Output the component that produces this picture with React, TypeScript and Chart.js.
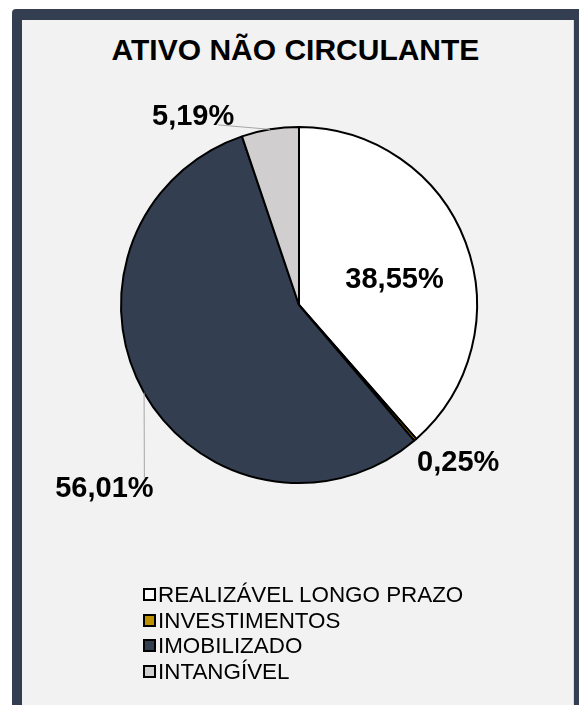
import React, { useEffect, useRef } from "react";
import { Chart, registerables } from "chart.js";

Chart.register(...registerables);

const TITLE = "ATIVO NÃO CIRCULANTE";
const categories = ["REALIZÁVEL LONGO PRAZO", "INVESTIMENTOS", "IMOBILIZADO", "INTANGÍVEL"];
const values = [38.55, 0.25, 56.01, 5.19];
const valueLabels = ["38,55%", "0,25%", "56,01%", "5,19%"];
const colors = ["#FFFFFF", "#BF9000", "#333F50", "#D0CECE"];

// label placement (style): polar position from pie centre as fraction of radius and degrees clockwise from 12 o'clock;
// leader = offset of the leader-line end relative to the label centre
const labelPlacement: { r: number; a: number; leader: number[] | null }[] = [
  { r: 0.556, a: 74.8, leader: null },
  { r: 1.256, a: 134.6, leader: null },
  { r: 1.5, a: 226.8, leader: [40, -10] },
  { r: 1.215, a: 330.7, leader: [25, 8.5] },
];

const FONT = "'Liberation Sans', Arial, Helvetica, sans-serif";

const labelPlugin = {
  id: "pieLabels",
  afterDatasetsDraw(chart: any) {
    const ctx = chart.ctx;
    const meta = chart.getDatasetMeta(0);
    ctx.save();
    meta.data.forEach((arc: any, i: number) => {
      const { x, y, startAngle, endAngle, outerRadius } = arc.getProps(
        ["x", "y", "startAngle", "endAngle", "outerRadius"],
        true
      );
      const mid = (startAngle + endAngle) / 2;
      const p = labelPlacement[i];
      const a = ((p.a - 90) * Math.PI) / 180;
      const lx = x + Math.cos(a) * outerRadius * p.r;
      const ly = y + Math.sin(a) * outerRadius * p.r;
      if (p.leader) {
        const ex = x + Math.cos(mid) * outerRadius;
        const ey = y + Math.sin(mid) * outerRadius;
        ctx.beginPath();
        ctx.moveTo(ex, ey);
        ctx.lineTo(lx + p.leader[0], ly + p.leader[1]);
        ctx.strokeStyle = "#A6A6A6";
        ctx.lineWidth = 1;
        ctx.stroke();
      }
      ctx.font = `bold 29px ${FONT}`;
      ctx.fillStyle = "#000000";
      ctx.textAlign = "center";
      ctx.textBaseline = "middle";
      ctx.fillText(valueLabels[i], lx, ly + 1);
    });
    ctx.restore();
  },
};

export default function App() {
  const canvasRef = useRef<HTMLCanvasElement | null>(null);

  useEffect(() => {
    if (!canvasRef.current) return;
    const chart = new Chart(canvasRef.current, {
      type: "pie",
      data: {
        labels: categories,
        datasets: [
          {
            data: values,
            backgroundColor: colors,
            borderColor: "#000000",
            borderWidth: 2,
          },
        ],
      },
      options: {
        responsive: false,
        animation: false,
        layout: { padding: { left: 120, right: 101, top: 126, bottom: 221 } },
        plugins: {
          legend: { display: false },
          tooltip: { enabled: false },
          title: { display: false },
        },
      },
      plugins: [labelPlugin],
    });
    return () => chart.destroy();
  }, []);

  return (
    <div>
      <div
        style={{
          position: "fixed",
          left: 12,
          top: 9,
          width: 620,
          height: 740,
          background: "#333F50",
          borderTopLeftRadius: 4,
        }}
      />
      <div
        style={{
          position: "fixed",
          left: 22,
          top: 20,
          width: 551,
          height: 720,
          background: "#F2F2F2",
          borderRight: "1px solid #D9D9D9",
        }}
      />
      <div
        style={{
          position: "fixed",
          left: 20,
          top: 35,
          width: 551,
          textAlign: "center",
          fontFamily: FONT,
          fontWeight: "bold",
          fontSize: 30,
          lineHeight: "29px",
          color: "#000",
          whiteSpace: "nowrap",
        }}
      >
        {TITLE}
      </div>
      <canvas
        ref={canvasRef}
        width={579}
        height={705}
        style={{ position: "fixed", left: 0, top: 0, width: 579, height: 705 }}
      />
      <div
        style={{
          position: "fixed",
          left: 143,
          top: 582,
          fontFamily: FONT,
          fontSize: 22.4,
          color: "#000",
        }}
      >
        {categories.map((c, i) => (
          <div
            key={c}
            style={{ display: "flex", alignItems: "center", height: 25.6, whiteSpace: "nowrap" }}
          >
            <span
              style={{
                display: "inline-block",
                width: 13,
                height: 13,
                boxSizing: "border-box",
                border: "2px solid #000",
                background: colors[i],
                marginRight: 2,
              }}
            />
            <span style={{ lineHeight: "25.6px" }}>{c}</span>
          </div>
        ))}
      </div>
    </div>
  );
}
